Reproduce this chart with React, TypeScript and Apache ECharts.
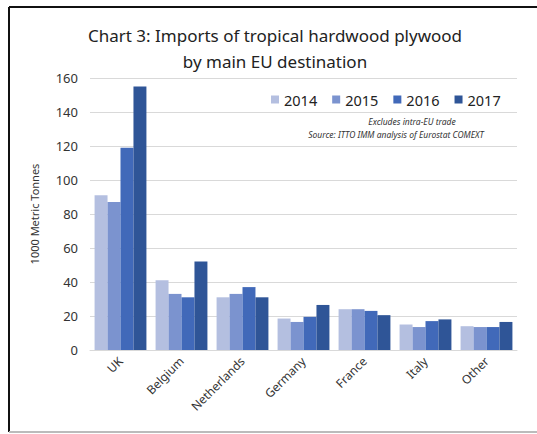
import React, { useEffect, useRef } from "react";
import * as echarts from "echarts";

const categories = ["UK", "Belgium", "Netherlands", "Germany", "France", "Italy", "Other"];
const years = ["2014", "2015", "2016", "2017"];
const v2014 = [91, 41, 31, 18.5, 24, 15, 14];
const v2015 = [87, 33, 33, 16.5, 24, 13.5, 13.5];
const v2016 = [119, 31, 37, 19.5, 23, 17, 13.5];
const v2017 = [155, 52, 31, 26.5, 20.5, 18, 16.5];
const colors = ["#b4bfe0", "#7b93cf", "#4169b9", "#2f5597"];
const yTicks = [0, 20, 40, 60, 80, 100, 120, 140, 160];

export default function App() {
  const ref = useRef<HTMLDivElement>(null);
  useEffect(() => {
    if (!ref.current) return;
    const chart = echarts.init(ref.current, null, { renderer: "svg" });
    const font = "Noto Sans";
    const seriesData = [v2014, v2015, v2016, v2017];
    chart.setOption({
      animation: false,
      textStyle: { fontFamily: font },
      title: {
        text: "Chart 3: Imports of tropical hardwood plywood\nby main EU destination",
        left: 270,
        textAlign: "center",
        top: 17,
        textStyle: { fontFamily: font, fontSize: 17, fontWeight: "normal", color: "#222", lineHeight: 26 },
      },
      legend: {
        data: years,
        top: 87,
        left: 266,
        itemWidth: 8,
        itemHeight: 8,
        itemGap: 15,
        icon: "rect",
        textStyle: { fontFamily: font, fontSize: 14.5, color: "#222" },
      },
      graphic: [
        { type: "line", shape: { x1: 9, y1: 7, x2: 537, y2: 7 }, style: { stroke: "#111", lineWidth: 2 } },
        { type: "line", shape: { x1: 9, y1: 7, x2: 9, y2: 432 }, style: { stroke: "#111", lineWidth: 2 } },
        { type: "line", shape: { x1: 9, y1: 432, x2: 537, y2: 432 }, style: { stroke: "#bbb", lineWidth: 2 } },
        {
          type: "text",
          x: 412,
          y: 117,
          style: { text: "Excludes intra-EU trade", fontFamily: font, fontSize: 8.5, fontStyle: "italic", fill: "#333", align: "center" },
        },
        {
          type: "text",
          x: 396,
          y: 130,
          style: { text: "Source: ITTO IMM analysis of Eurostat COMEXT", fontFamily: font, fontSize: 8.5, fontStyle: "italic", fill: "#333", align: "center" },
        },
      ],
      grid: { left: 90, right: 20, top: 78, bottom: 84 },
      xAxis: {
        type: "category",
        data: categories,
        axisTick: { show: false },
        axisLine: { lineStyle: { color: "#d9d9d9" } },
        axisLabel: { rotate: 45, fontFamily: font, fontSize: 12, color: "#333", margin: 9, interval: 0 },
      },
      yAxis: {
        type: "value",
        min: 0,
        max: 160,
        interval: 20,
        name: "1000 Metric Tonnes",
        nameLocation: "middle",
        nameGap: 50,
        nameTextStyle: { fontFamily: font, fontSize: 11, color: "#333" },
        axisLabel: {
          fontFamily: font,
          fontSize: 13,
          color: "#333",
          margin: 12,
          formatter: (v: number) => (yTicks.includes(v) ? String(v) : ""),
        },
        splitLine: { lineStyle: { color: "#d9d9d9" } },
      },
      series: years.map((y, i) => ({
        name: y,
        type: "bar",
        data: seriesData[i],
        itemStyle: { color: colors[i] },
        barGap: "0%",
        barCategoryGap: "15%",
      })),
    });
    return () => chart.dispose();
  }, []);
  return <div ref={ref} style={{ width: 537, height: 434, position: "absolute", left: 0, top: 0, background: "#fff" }} />;
}
